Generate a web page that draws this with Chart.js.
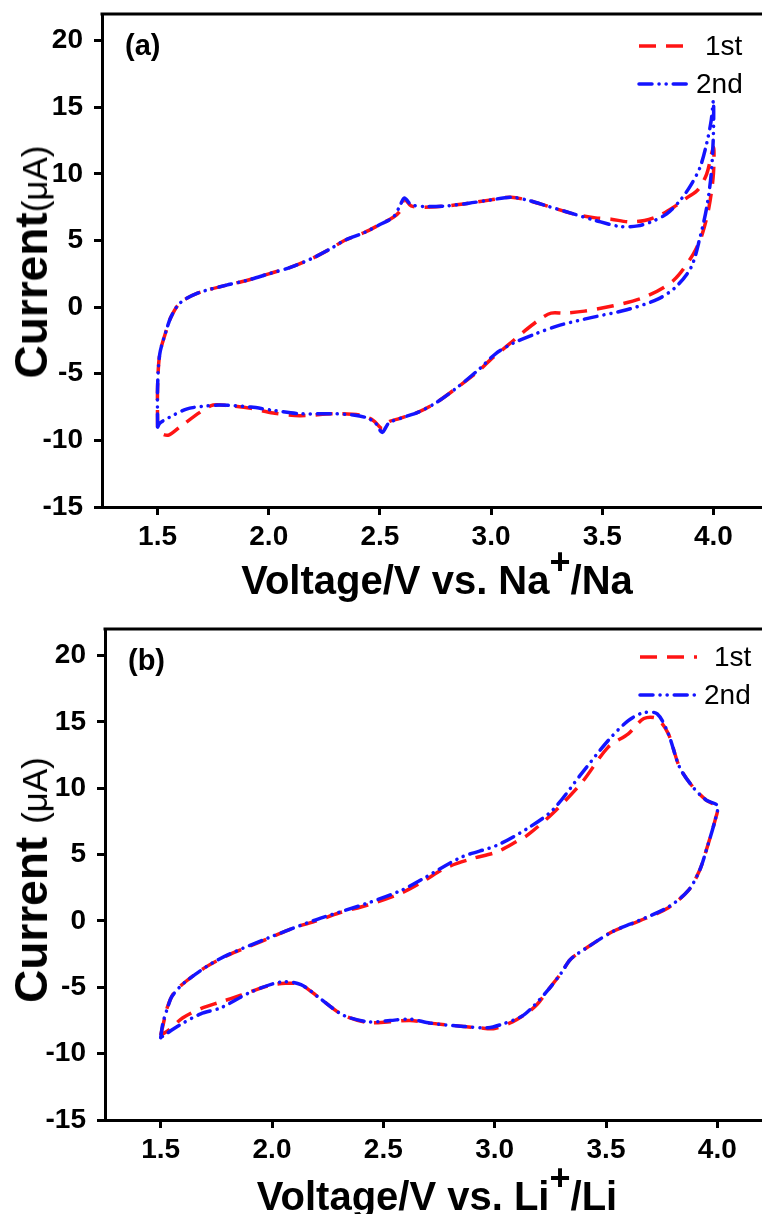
<!DOCTYPE html>
<html>
<head>
<meta charset="utf-8">
<script src="https://cdn.jsdelivr.net/npm/chart.js@4/dist/chart.umd.min.js"></script>
<style>
  body { margin: 0; background: #fff; width: 762px; height: 1214px; overflow: hidden; position: relative;
         font-family: "Liberation Sans", Arial, sans-serif; }
  .panel { position: absolute; left: 0; width: 790px; height: 560px; }
  .xtitle { position: absolute; font-weight: bold; font-size: 40px; line-height: 46px; white-space: nowrap; transform: translateX(-50%); }
  .xtitle sup { font-size: 36px; line-height: 0; position: relative; top: -6px; }
  .ytitle { position: absolute; font-weight: bold; font-size: 46px; line-height: 50px; white-space: nowrap;
            transform: translate(-50%, -50%) rotate(-90deg); }
  .ytitle span { font-weight: normal; font-size: 35px; }
</style>
</head>
<body>
<div class="panel" style="top:0"><canvas id="chartNa"></canvas></div>
<div class="panel" style="top:615px"><canvas id="chartLi"></canvas></div>

<div class="xtitle" style="left:437px; top:557px">Voltage/V vs. Na<sup>+</sup>/Na</div>
<div class="ytitle" style="left:33px; top:262px">Current<span>(μA)</span></div>
<div class="xtitle" style="left:437px; top:1173px">Voltage/V vs. Li<sup>+</sup>/Li</div>
<div class="ytitle" style="left:33px; top:880px">Current <span>(μA)</span></div>

<script>
// ===== DATA =====
const xTicks = [1.5, 2.0, 2.5, 3.0, 3.5, 4.0];
const yTicks = [-15, -10, -5, 0, 5, 10, 15, 20];
const seriesNames = ["1st", "2nd"];

// (a) Na cell, 1st cycle
const naV1 = [1.50, 1.50, 1.51, 1.54, 1.56, 1.60, 1.68, 1.81, 1.90, 2.00, 2.10, 2.20, 2.28, 2.34, 2.43, 2.50, 2.56, 2.59, 2.61, 2.64,
  2.70, 2.80, 2.90, 3.00, 3.09, 3.17, 3.25, 3.37, 3.47, 3.54, 3.62, 3.69, 3.76, 3.83, 3.88, 3.93, 3.97, 4.00, 4.00, 3.98,
  3.95, 3.91, 3.82, 3.69, 3.55, 3.42, 3.33, 3.27, 3.22, 3.15, 3.08, 3.00, 2.95, 2.85, 2.75, 2.67, 2.58, 2.54, 2.51, 2.47,
  2.41, 2.29, 2.14, 2.02, 1.92, 1.82, 1.75, 1.69, 1.60, 1.55, 1.52, 1.50];
const naI1 = [-9.0, -6.0, -3.5, -1.7, -0.75, 0.3, 1.05, 1.65, 2.0, 2.5, 3.0, 3.7, 4.4, 5.0, 5.6, 6.2, 6.75, 7.2, 8.1, 7.6,
  7.5, 7.6, 7.8, 8.05, 8.25, 8.0, 7.6, 7.0, 6.7, 6.6, 6.4, 6.5, 6.9, 7.6, 8.2, 8.8, 10.0, 12.0, 10.0, 7.5,
  5.5, 4.0, 2.0, 0.75, 0.1, -0.3, -0.45, -0.45, -0.9, -1.8, -2.8, -3.9, -4.7, -6.0, -7.2, -7.9, -8.4, -8.6, -9.1, -8.5,
  -8.1, -8.0, -8.15, -7.95, -7.6, -7.4, -7.35, -7.9, -9.0, -9.6, -9.5, -9.0];

// (a) Na cell, 2nd cycle
const naV2 = [1.50, 1.50, 1.51, 1.54, 1.56, 1.60, 1.68, 1.81, 1.90, 2.00, 2.10, 2.20, 2.28, 2.34, 2.43, 2.50, 2.56, 2.59, 2.61, 2.64,
  2.70, 2.80, 2.90, 3.00, 3.09, 3.17, 3.25, 3.37, 3.47, 3.58, 3.66, 3.72, 3.79, 3.85, 3.90, 3.94, 3.97, 3.99, 4.00, 4.00,
  3.99, 3.97, 3.94, 3.90, 3.83, 3.75, 3.61, 3.46, 3.31, 3.20, 3.10, 3.02, 2.95, 2.85, 2.75, 2.67, 2.60, 2.54, 2.51, 2.48,
  2.44, 2.38, 2.29, 2.14, 2.02, 1.92, 1.78, 1.70, 1.63, 1.55, 1.51, 1.50];
const naI2 = [-9.0, -6.0, -3.5, -1.7, -0.75, 0.3, 1.05, 1.65, 2.0, 2.5, 3.0, 3.7, 4.4, 5.0, 5.6, 6.2, 6.75, 7.6, 8.2, 7.7,
  7.55, 7.6, 7.8, 8.05, 8.25, 8.0, 7.6, 7.0, 6.5, 6.05, 6.1, 6.4, 7.0, 8.0, 9.2, 10.5, 12.3, 14.0, 15.5, 13.0,
  10.0, 7.5, 5.25, 3.0, 1.5, 0.6, -0.2, -0.75, -1.35, -2.0, -2.7, -3.5, -4.6, -6.0, -7.2, -7.9, -8.3, -8.7, -9.4, -8.7,
  -8.3, -8.1, -8.0, -8.0, -7.75, -7.5, -7.35, -7.45, -7.65, -8.3, -8.7, -9.0];

// (b) Li cell, 1st cycle
const liV1 = [1.50, 1.51, 1.53, 1.56, 1.61, 1.70, 1.80, 1.90, 2.00, 2.10, 2.20, 2.30, 2.43, 2.58, 2.68, 2.78, 2.90, 3.01, 3.10, 3.15,
  3.26, 3.39, 3.51, 3.60, 3.67, 3.73, 3.78, 3.83, 3.89, 3.95, 4.00, 3.99, 3.95, 3.92, 3.87, 3.78, 3.65, 3.53, 3.42, 3.34,
  3.30, 3.24, 3.19, 3.14, 3.08, 3.00, 2.93, 2.86, 2.71, 2.62, 2.53, 2.43, 2.32, 2.22, 2.13, 2.06, 1.98, 1.86, 1.77, 1.68,
  1.60, 1.53, 1.50];
const liI1 = [-8.6, -7.9, -6.5, -5.4, -4.6, -3.5, -2.6, -1.9, -1.2, -0.5, 0.0, 0.6, 1.2, 2.1, 3.0, 4.0, 4.7, 5.2, 6.0, 6.5,
  8.1, 10.4, 13.1, 14.1, 15.25, 15.25, 14.1, 11.6, 10.1, 9.1, 8.6, 7.6, 5.3, 3.8, 2.3, 1.0, 0.0, -0.8, -1.95, -2.9,
  -3.9, -5.2, -6.3, -7.0, -7.6, -8.1, -8.05, -7.95, -7.7, -7.5, -7.6, -7.65, -7.1, -5.9, -4.8, -4.7, -4.9, -5.6, -6.1, -6.6,
  -7.3, -8.3, -8.6];

// (b) Li cell, 2nd cycle
const liV2 = [1.50, 1.51, 1.53, 1.55, 1.61, 1.76, 1.98, 2.20, 2.43, 2.58, 2.68, 2.85, 3.01, 3.15, 3.26, 3.39, 3.51, 3.60, 3.67, 3.73,
  3.78, 3.83, 3.89, 3.95, 4.00, 3.99, 3.95, 3.92, 3.87, 3.78, 3.65, 3.53, 3.42, 3.34, 3.30, 3.24, 3.17, 3.12, 3.03, 2.97,
  2.86, 2.71, 2.62, 2.53, 2.43, 2.32, 2.22, 2.13, 2.04, 1.90, 1.77, 1.68, 1.58, 1.50];
const liI2 = [-8.8, -7.7, -6.6, -5.7, -4.6, -2.9, -1.3, 0.1, 1.35, 2.3, 3.2, 4.8, 5.7, 7.0, 8.35, 11.1, 13.6, 15.1, 15.7, 15.6,
  14.1, 11.6, 10.1, 9.1, 8.7, 7.6, 5.3, 3.8, 2.3, 1.05, 0.05, -0.8, -1.95, -2.9, -3.9, -5.2, -6.5, -7.2, -7.8, -8.05,
  -7.95, -7.7, -7.4, -7.5, -7.6, -7.1, -5.9, -4.8, -4.6, -5.4, -6.55, -7.0, -7.9, -8.8];

// ===== HELPERS =====
const FONT = '"Liberation Sans", Arial, sans-serif';
const RED = "rgb(255, 20, 20)";
const BLUE = "rgb(20, 20, 255)";
const DASH_1ST = [17, 10];
const DASH_2ND = [13, 7, 0.1, 7, 0.1, 7];
const LINE_W = 3.5;

function toPoints(vs, is) {
  return vs.map((v, i) => ({ x: v, y: is[i] }));
}

// top/right frame lines, panel tag and inset legend
const framePlugin = {
  id: "frame",
  afterDraw(chart, args, opts) {
    const { ctx, chartArea: a } = chart;
    ctx.save();
    ctx.strokeStyle = "#000";
    ctx.lineWidth = 3;
    ctx.beginPath();
    ctx.moveTo(a.left - 1.5, a.top);
    ctx.lineTo(a.right, a.top);
    ctx.lineTo(a.right, a.bottom);
    ctx.stroke();

    ctx.fillStyle = "#000";
    ctx.font = "bold 29px " + FONT;
    ctx.textBaseline = "middle";
    ctx.fillText(opts.tag, a.left + 23, a.top + 33);

    const rows = [
      { color: RED, dash: DASH_1ST, name: seriesNames[0], cap: "butt", y: opts.legendY[0], tx: opts.textX[0] },
      { color: BLUE, dash: DASH_2ND, name: seriesNames[1], cap: "round", y: opts.legendY[1], tx: opts.textX[1] },
    ];
    ctx.font = "28px " + FONT;
    ctx.lineWidth = LINE_W;
    rows.forEach((r) => {
      ctx.strokeStyle = r.color;
      ctx.lineCap = r.cap;
      ctx.setLineDash(r.dash);
      ctx.beginPath();
      ctx.moveTo(opts.lineX[0], r.y);
      ctx.lineTo(opts.lineX[1], r.y);
      ctx.stroke();
      ctx.setLineDash([]);
      ctx.fillText(r.name, r.tx, r.y + 1);
    });
    ctx.restore();
  },
};

function makeChart(id, red, blue, cfg) {
  const axisCommon = {
    type: "linear",
    border: { display: true, color: "#000", width: 3 },
    grid: { display: true, drawOnChartArea: false, drawTicks: true, tickLength: 8, color: "#000", lineWidth: 3 },
  };
  return new Chart(document.getElementById(id), {
    type: "scatter",
    data: {
      datasets: [
        {
          label: seriesNames[1], data: blue, showLine: true, borderColor: BLUE, borderWidth: LINE_W,
          borderDash: DASH_2ND, borderCapStyle: "round", pointRadius: 0, tension: 0.3, order: 1,
        },
        {
          label: seriesNames[0], data: red, showLine: true, borderColor: RED, borderWidth: LINE_W,
          borderDash: DASH_1ST, borderCapStyle: "butt", pointRadius: 0, tension: 0.3, order: 2,
        },
      ],
    },
    options: {
      responsive: true,
      maintainAspectRatio: false,
      animation: false,
      layout: { padding: { top: cfg.padTop, right: cfg.padRight, left: 0, bottom: 0 } },
      plugins: { legend: { display: false }, tooltip: { enabled: false }, frame: cfg.frame },
      scales: {
        x: {
          ...axisCommon,
          min: 1.25,
          max: 4.25,
          afterBuildTicks: (s) => { s.ticks = xTicks.map((v) => ({ value: v })); },
          afterFit: (s) => { s.height = cfg.xHeight; s.paddingLeft = 0; s.paddingRight = 0; },
          ticks: { color: "#000", font: { family: FONT, size: 28, weight: "bold" }, padding: 5,
                   callback: (v) => v.toFixed(1) },
        },
        y: {
          ...axisCommon,
          min: -15,
          max: 22,
          afterBuildTicks: (s) => { s.ticks = yTicks.map((v) => ({ value: v })); },
          afterFit: (s) => { s.width = cfg.yWidth; s.paddingTop = 0; s.paddingBottom = 0; },
          ticks: { color: "#000", font: { family: FONT, size: 28, weight: "bold" }, padding: 11 },
        },
      },
    },
    plugins: [framePlugin],
  });
}

makeChart("chartNa", toPoints(naV1, naI1), toPoints(naV2, naI2), {
  padTop: 14, padRight: 21, xHeight: 53, yWidth: 102,
  frame: { tag: "(a)", lineX: [639, 693], legendY: [46, 84], textX: [705, 696] },
});

makeChart("chartLi", toPoints(liV1, liI1), toPoints(liV2, liI2), {
  padTop: 14, padRight: 17, xHeight: 55, yWidth: 105,
  frame: { tag: "(b)", lineX: [640, 697], legendY: [42, 80], textX: [714, 704] },
});
</script>
</body>
</html>
